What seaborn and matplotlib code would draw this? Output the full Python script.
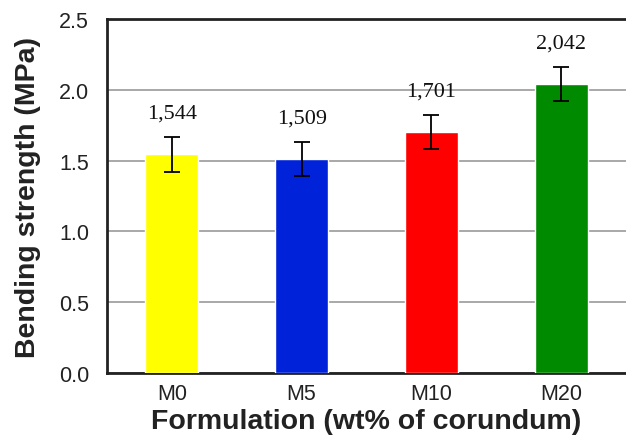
import matplotlib
matplotlib.use("Agg")
import matplotlib.pyplot as plt
import seaborn as sns
import pandas as pd

categories = ["M0", "M5", "M10", "M20"]
values = [1.544, 1.509, 1.701, 2.042]
errors = [0.124, 0.12, 0.12, 0.12]
value_labels = ["1,544", "1,509", "1,701", "2,042"]
colors = ["#FFFF00", "#0022D8", "#FF0000", "#008A00"]

df = pd.DataFrame({"cat": categories, "val": values})

sns.set_style("white")
plt.rcParams['font.family'] = ['Liberation Sans', 'DejaVu Sans']

fig = plt.figure(figsize=(6.26, 4.39), dpi=100)
ax = fig.add_axes([107/626, 1-374/439, 1-107/626, (374-20)/439])

sns.barplot(data=df, x="cat", y="val", hue="cat", palette=colors, legend=False,
            width=0.41, ax=ax, saturation=1, zorder=3)
ax.errorbar(range(len(values)), values, yerr=errors, fmt="none", ecolor="black",
            elinewidth=1.3, capsize=5.5, capthick=1.3, zorder=4)
for i, (v, lab) in enumerate(zip(values, value_labels)):
    ax.text(i, v + 0.29, lab, ha="center", va="center", fontsize=16,
            family=["Liberation Serif", "DejaVu Serif"], color="#111111")

ax.set_xlim(-0.5, 3.5)
ax.set_ylim(0, 2.5)
ax.set_yticks([0, 0.5, 1.0, 1.5, 2.0, 2.5])
ax.set_yticklabels(["0.0", "0.5", "1.0", "1.5", "2.0", "2.5"])
ax.yaxis.grid(True, color="#999999", linewidth=1.2, zorder=0)
ax.set_axisbelow(True)

ax.set_xticks([0, 1, 2, 3])
ax.set_xticklabels(categories)
ax.set_xticks([-0.5, 0.5, 1.5, 2.5], minor=True)
ax.tick_params(axis="x", which="major", length=0, labelsize=15.5, pad=7, colors="#222222")
ax.tick_params(axis="x", which="minor", length=5, width=1.2, color="#333333", direction="out")
ax.tick_params(axis="y", which="major", length=7, width=1.2, labelsize=15.5, pad=6,
               direction="out", color="#333333", labelcolor="#222222")

for s in ["left", "bottom", "top"]:
    ax.spines[s].set_visible(True)
    ax.spines[s].set_linewidth(2)
    ax.spines[s].set_color("#222222")
ax.spines["right"].set_visible(False)

ax.set_xlabel("Formulation (wt% of corundum)", fontsize=20.5, fontweight="bold",
              color="#222222", labelpad=3)
ax.set_ylabel("Bending strength (MPa)", fontsize=20.5, fontweight="bold",
              color="#222222", labelpad=13)

fig.savefig("out.png", dpi=100)
